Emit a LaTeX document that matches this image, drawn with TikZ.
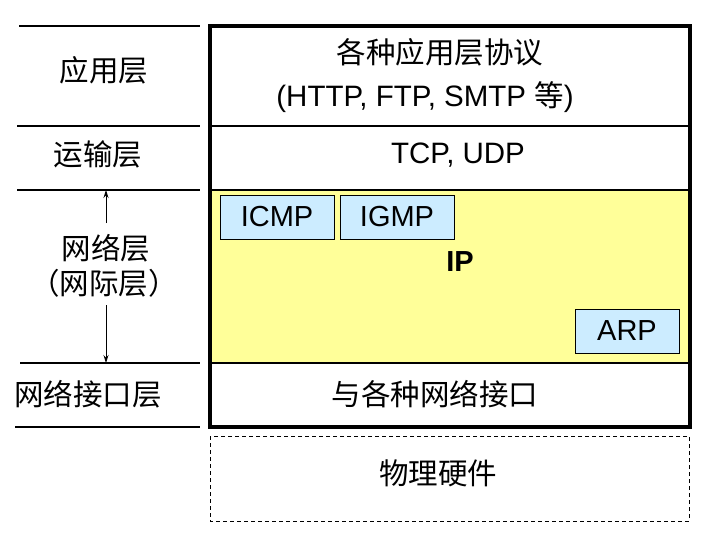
\documentclass[tikz,border=0pt]{standalone}
\usepackage{fontspec}
\setmainfont{Liberation Sans}
\newfontfamily\cjk{Noto Sans CJK SC}
\usetikzlibrary{arrows.meta}
\definecolor{ipyellow}{HTML}{FFFF99}
\definecolor{protoblue}{HTML}{CCECFF}
\tikzset{
  thinline/.style={line width=1.2pt},
  txt/.style={inner sep=0pt, font=\fontsize{29.5}{35}\selectfont},
  proto/.style={draw, line width=1pt, fill=protoblue, minimum width=114pt, minimum height=44pt, inner sep=0pt, font=\fontsize{29}{35}\selectfont},
}
\begin{document}
\begin{tikzpicture}[x=1pt,y=-1pt]
\useasboundingbox (0,0) rectangle (717,536);
% left separators
\draw[thinline] (19,26) -- (200,26);
\draw[thinline] (17,126) -- (200,126);
\draw[thinline] (17,190) -- (200,190);
\draw[thinline] (20,363) -- (200,363);
\draw[thinline] (15,427) -- (200,427);
% IP region
\fill[ipyellow] (210,190) rectangle (690,363);
\draw[thinline] (210,126) -- (690,126);
\draw[thinline] (210,190) -- (690,190);
\draw[thinline] (210,363) -- (690,363);
\draw[line width=3.2pt] (210,26) rectangle (690,427);
% dashed box
\draw[line width=1pt, dash pattern=on 4pt off 3pt] (210,436) rectangle (689,521);
% protocol boxes
\node[proto] (icmp) at (277,217) {ICMP};
\node[proto] (igmp) at (397,217) {IGMP};
\node[proto, minimum width=104pt] (arp) at (627,331) {ARP};
\node[txt, font=\fontsize{29}{35}\selectfont\bfseries] (ip) at (460,262) {IP};
% right texts
\node[txt] (app1) at (440,52) {\cjk 各种应用层协议};
\node[txt] (app2) at (425,97) {(HTTP, FTP, SMTP {\cjk 等})};
\node[txt] (tcp) at (458,155) {TCP, UDP};
\node[txt] (link) at (435,394) {\cjk 与各种网络接口};
\node[txt] (phys) at (438,473) {\cjk 物理硬件};
% left texts
\node[txt] (appl) at (104,70) {\cjk 应用层};
\node[txt] (tran) at (98,154) {\cjk 运输层};
\node[txt] (net1) at (106,248) {\cjk 网络层};
\node[txt] (net2) at (104,283) {\cjk （网际层）};
\node[txt] (linkl) at (88,394) {\cjk 网络接口层};
% arrows
\coordinate (atop) at (106,190);
\coordinate (abot) at (106,363);
\coordinate (s1) at (106,223);
\coordinate (s2) at (106,305);
\draw[line width=0.8pt, -{Stealth[length=8pt,width=5pt]}] (s1) -- (atop);
\draw[line width=0.8pt, -{Stealth[length=8pt,width=5pt]}] (s2) -- (abot);
\end{tikzpicture}
\end{document}
